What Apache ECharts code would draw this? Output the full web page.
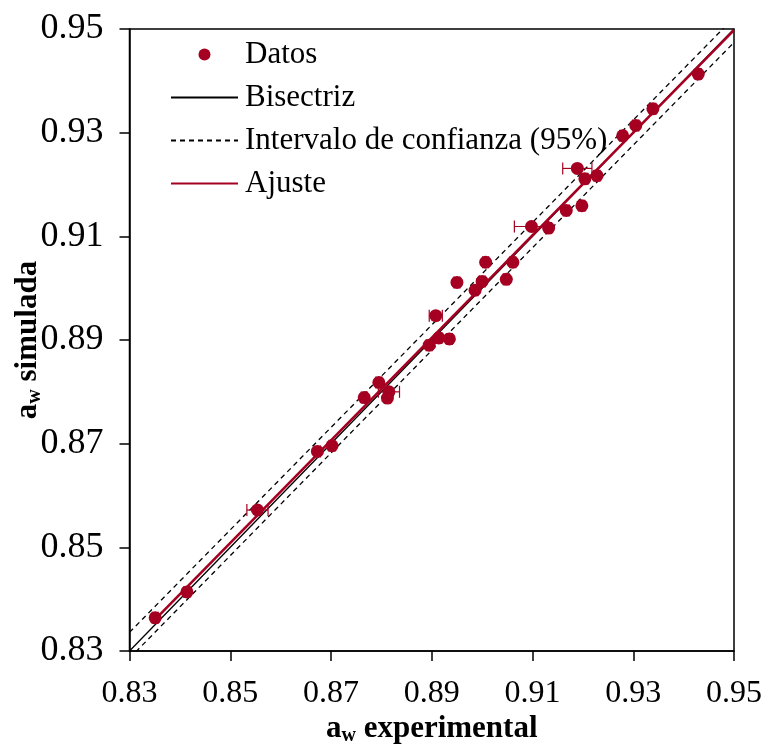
<!DOCTYPE html>
<html><head><meta charset="utf-8">
<script src="https://cdn.jsdelivr.net/npm/echarts@6/dist/echarts.min.js"></script>
<style>html,body{margin:0;padding:0;background:#fff}#c{width:765px;height:744px}</style>
</head><body><div id="c"></div>
<script>
// Data
const expX = [0.8351, 0.8414, 0.8554, 0.8673, 0.8702, 0.8766, 0.8795, 0.8812, 0.8815, 0.8895,
              0.8908, 0.8914, 0.8935, 0.8950, 0.8986, 0.9000, 0.9007, 0.9048, 0.9061, 0.9098,
              0.9132, 0.9167, 0.9189, 0.9198, 0.9204, 0.9228, 0.9279, 0.9305, 0.9339, 0.9429];
const simY = [0.8364, 0.8414, 0.8572, 0.8685, 0.8696, 0.8789, 0.8818, 0.8788, 0.8800, 0.8890,
              0.8947, 0.8904, 0.8902, 0.9011, 0.8996, 0.9013, 0.9050, 0.9017, 0.9050, 0.9119,
              0.9116, 0.9150, 0.9231, 0.9159, 0.9211, 0.9217, 0.9294, 0.9314, 0.9346, 0.9413];
const errX = [0.0006, 0.0006, 0.0021, 0.0006, 0.0006, 0.0006, 0.0006, 0.0006, 0.0021, 0.0006,
              0.0013, 0.0006, 0.0006, 0.0006, 0.0006, 0.0006, 0.0006, 0.0006, 0.0006, 0.0034,
              0.0006, 0.0006, 0.0029, 0.0006, 0.0006, 0.0006, 0.0006, 0.0006, 0.0006, 0.0006];
const bisX = [0.83, 0.95];
const bisY = [0.83, 0.95];
const fitX = [0.8351, 0.95];
const fitY = [0.8361, 0.9498];
const ciX = [0.83, 0.95];
const ciUpper = [0.8336, 0.9522];
const ciLower = [0.8286, 0.9474];
const ticks = ['0.83','0.85','0.87','0.89','0.91','0.93','0.95'];

const RED = '#A50021';
const FONT = "'Liberation Serif','Times New Roman',serif";
const zip = (a, b) => a.map((v, i) => [v, b[i]]);

const chart = echarts.init(document.getElementById('c'));
const axisCommon = {
  type: 'value', min: 0.83, max: 0.95, interval: 0.02,
  axisLine: { show: true, lineStyle: { color: '#000', width: 1.5 } },
  axisTick: { show: true, inside: false, length: 10, lineStyle: { color: '#000', width: 1.5 } },
  splitLine: { show: false },
  axisLabel: { color: '#000', fontFamily: FONT, fontSize: 33, hideOverlap: false,
    formatter: v => { const s = v.toFixed(2); return ticks.includes(s) ? s : ''; } },
  nameLocation: 'middle',
  nameMoveOverlap: false,
  nameTextStyle: { fontFamily: FONT, fontSize: 31, fontWeight: 'bold', color: '#000',
    rich: {
      b: { fontFamily: FONT, fontSize: 31, fontWeight: 'bold', color: '#000' },
      s: { fontFamily: FONT, fontSize: 20, fontWeight: 'bold', color: '#000', padding: [14, 0, 0, 0] }
    } }
};

chart.setOption({
  animation: false,
  backgroundColor: '#fff',
  grid: { left: 129.5, right: 31, top: 29, bottom: 93, show: true, borderColor: '#000', borderWidth: 1.5,
    backgroundColor: 'transparent', containLabel: false, outerBoundsMode: 'none' },
  xAxis: Object.assign({}, axisCommon, {
    name: '{b|a}{s|w}{b| experimental}', nameGap: 61,
    axisLabel: Object.assign({}, axisCommon.axisLabel, { margin: 27, fontSize: 32 })
  }),
  yAxis: Object.assign({}, axisCommon, {
    name: '{b|a}{s|w}{b| simulada}', nameGap: 85,
    axisLabel: Object.assign({}, axisCommon.axisLabel, { margin: 26, fontSize: 36 })
  }),
  legend: {
    orient: 'vertical', left: 165, top: 34, itemWidth: 67, itemHeight: 12, itemGap: 12,
    textStyle: { fontFamily: FONT, fontSize: 31, color: '#000', lineHeight: 30, padding: [0, 0, 0, 2] },
    data: [
      { name: 'Datos', icon: 'circle' },
      { name: 'Bisectriz', itemStyle: { opacity: 0 } },
      { name: 'Intervalo de confianza (95%)', itemStyle: { opacity: 0 } },
      { name: 'Ajuste', itemStyle: { opacity: 0 } }
    ]
  },
  series: [
    { name: 'Bisectriz', type: 'line', data: zip(bisX, bisY), symbol: 'none', z: 3,
      lineStyle: { color: '#000', width: 1.3 }, itemStyle: { color: '#000' } },
    { name: 'Intervalo de confianza (95%)', type: 'line', data: zip(ciX, ciUpper), symbol: 'none', z: 3, clip: true,
      lineStyle: { color: '#000', width: 1.3, type: [5, 4] }, itemStyle: { color: '#000' } },
    { name: 'Intervalo de confianza (95%)', type: 'line', data: zip(ciX, ciLower), symbol: 'none', z: 3, clip: true,
      lineStyle: { color: '#000', width: 1.3, type: [5, 4] }, itemStyle: { color: '#000' } },
    { name: 'Ajuste', type: 'line', data: zip(fitX, fitY), symbol: 'none', z: 4,
      lineStyle: { color: RED, width: 2.6 }, itemStyle: { color: RED } },
    { name: 'errbars', type: 'custom', z: 5, silent: true,
      data: expX.map((x, i) => [x, simY[i], errX[i]]),
      renderItem: (params, api) => {
        const x = api.value(0), y = api.value(1), e = api.value(2);
        const p0 = api.coord([x - e, y]), p1 = api.coord([x + e, y]);
        const st = { stroke: RED, lineWidth: 1.2 };
        return { type: 'group', children: [
          { type: 'line', shape: { x1: p0[0], y1: p0[1], x2: p1[0], y2: p1[1] }, style: st },
          { type: 'line', shape: { x1: p0[0], y1: p0[1] - 6, x2: p0[0], y2: p0[1] + 6 }, style: st },
          { type: 'line', shape: { x1: p1[0], y1: p1[1] - 6, x2: p1[0], y2: p1[1] + 6 }, style: st }
        ] };
      } },
    { name: 'Datos', type: 'scatter', data: zip(expX, simY), symbol: 'circle', symbolSize: 13, z: 6,
      itemStyle: { color: RED, opacity: 1 } }
  ]
});
</script></body></html>
